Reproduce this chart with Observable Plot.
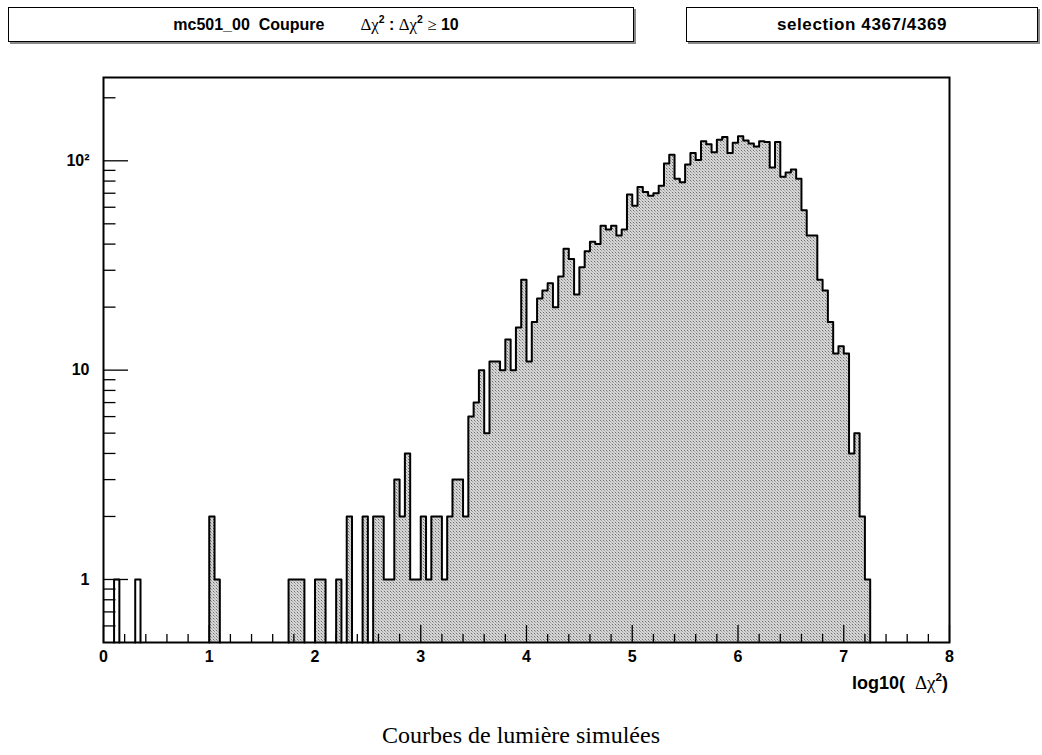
<!DOCTYPE html>
<html>
<head>
<meta charset="utf-8">
<script src="https://cdn.jsdelivr.net/npm/d3@7"></script>
<script src="https://cdn.jsdelivr.net/npm/@observablehq/plot@0.6"></script>
<style>
  html, body { margin: 0; padding: 0; background: #fff; }
  body { width: 1042px; height: 755px; position: relative; overflow: hidden; font-family: "Liberation Sans", Arial, sans-serif; color: #000; }
  .box { position: absolute; top: 7px; height: 35px; box-sizing: border-box; border: 1px solid #000; box-shadow: 2px 2px 0 #8a8a8a; background: #fff;
         font-weight: bold; font-size: 16px; display: flex; align-items: center; justify-content: center; white-space: pre; }
  .sym { font-family: "Liberation Serif", "DejaVu Serif", serif; font-weight: normal; font-size: 1.05em; }
  sup { font-size: 0.65em; vertical-align: 0.7em; line-height: 0; font-weight: bold; font-family: "Liberation Sans", Arial, sans-serif; }
  #chart { position: absolute; left: 0; top: 0; }
  #xlabel { position: absolute; right: 94px; top: 672px; font-weight: bold; font-size: 18px; white-space: pre; }
  #caption { position: absolute; left: 0; width: 1042px; top: 722px; text-align: center; font-family: "Liberation Serif", "DejaVu Serif", serif; font-size: 24px; }
</style>
</head>
<body>
<div class="box" style="left:8px;width:626px;padding-right:10px;"><span>mc501_00  Coupure<span class="sym" style="margin-left:36px">Δχ</span><sup>2</sup> : <span class="sym">Δχ</span><sup>2</sup> <span class="sym">≥</span> 10</span></div>
<div class="box" style="left:686px;width:352px;font-size:17px;letter-spacing:0.6px;"><span>selection 4367/4369</span></div>
<div id="chart"></div>
<div id="xlabel">log10(  <span class="sym">Δχ</span><sup>2</sup>)</div>
<div id="caption">Courbes de lumière simulées</div>
<script>
// Histogram definition: 160 bins of width 0.05 on log10(Δχ²) from 0 to 8
const xMin = 0, xMax = 8, binWidth = 0.05;
const cutLog = 1; // Δχ² ≥ 10  ->  log10(Δχ²) ≥ 1 (filled part)
const yMin = 0.5, yMax = 250;

// entries per bin (bin i covers [i*0.05, (i+1)*0.05))
const counts = [
  0,0,1,0,0,0,1,0,0,0,0,0,0,0,0,0,0,0,0,0,
  2,1,0,0,0,0,0,0,0,0,0,0,0,0,0,1,1,1,0,0,
  1,1,0,0,1,0,2,0,0,2,0,2,2,1,1,3,2,4,1,1,
  2,1,2,2,1,2,3,3,2,6,7,10,5,11,11,10,14,10,16,27,
  11,17,22,24,26,20,28,38,34,23,31,37,41,40,49,47,49,44,47,69,
  61,75,71,68,70,76,97,107,82,79,96,109,101,124,120,110,126,130,109,122,
  131,125,121,117,124,123,93,123,84,88,91,82,58,44,44,27,24,17,12,13,
  12,4,5,2,1,0,0,0,0,0,0,0,0,0,0,0,0,0,0,0
];

const xMajorTicks = [0, 1, 2, 3, 4, 5, 6, 7, 8];
const xMinorTicks = [0.2,0.4,0.6,0.8, 1.2,1.4,1.6,1.8, 2.2,2.4,2.6,2.8, 3.2,3.4,3.6,3.8,
                     4.2,4.4,4.6,4.8, 5.2,5.4,5.6,5.8, 6.2,6.4,6.6,6.8, 7.2,7.4,7.6,7.8];
const yMajorTicks = [1, 10, 100];
const yMajorLabels = ["1", "10", "10²"];
const yMinorTicks = [0.6,0.7,0.8,0.9, 2,3,4,5,6,7,8,9, 20,30,40,50,60,70,80,90, 200];

// Build the histogram contour (ROOT style step outline) from the counts
const runs = [];
let cur = null;
counts.forEach((n, i) => {
  if (n > 0) {
    if (!cur) { cur = {start: i, bins: []}; runs.push(cur); }
    cur.bins.push(i);
  } else cur = null;
});
const contour = [];
runs.forEach((r, k) => {
  const x0 = xMin + r.start * binWidth;
  const filled = x0 >= cutLog - 1e-9;
  contour.push({run: k, filled, x: x0, y: yMin, base: yMin});
  r.bins.forEach(i => {
    const lo = xMin + i * binWidth;
    contour.push({run: k, filled, x: lo, y: counts[i], base: yMin});
    contour.push({run: k, filled, x: lo + binWidth, y: counts[i], base: yMin});
  });
  contour.push({run: k, filled, x: xMin + (r.start + r.bins.length) * binWidth, y: yMin, base: yMin});
});

const chart = Plot.plot({
  width: 1042,
  height: 755,
  marginTop: 77,
  marginLeft: 103,
  marginRight: 93,
  marginBottom: 113,
  style: {fontFamily: "'Liberation Sans', Arial, sans-serif", fontSize: "16px", fontWeight: "bold", background: "transparent", color: "#000"},
  x: {domain: [xMin, xMax]},
  y: {type: "log", domain: [yMin, yMax]},
  marks: [
    Plot.area(contour.filter(d => d.filled), {x1: "x", y1: "base", y2: "y", z: "run", fill: "url(#rootdots)", curve: "linear"}),
    Plot.line(contour, {x: "x", y: "y", z: "run", stroke: "#000", strokeWidth: 2, curve: "linear"}),
    Plot.axisX({ticks: xMajorTicks, tickSize: 0, tickPadding: 8, tickFormat: d => String(d), label: null, stroke: "none"}),
    Plot.axisX({ticks: xMajorTicks, tickSize: -17, fill: "none", label: null, strokeWidth: 1.3}),
    Plot.axisX({ticks: xMinorTicks, tickSize: -8, fill: "none", label: null, strokeWidth: 1.3}),
    Plot.axisY({ticks: yMajorTicks, tickSize: 0, tickPadding: 14, tickFormat: d => yMajorLabels[yMajorTicks.indexOf(d)], label: null, stroke: "none"}),
    Plot.axisY({ticks: yMajorTicks, tickSize: -25, fill: "none", label: null, strokeWidth: 1.3}),
    Plot.axisY({ticks: yMinorTicks, tickSize: -12.5, fill: "none", label: null, strokeWidth: 1.3}),
    Plot.frame({stroke: "#000", strokeWidth: 2})
  ]
});

// dotted grey fill pattern
const svg = d3.select(chart);
const defs = svg.insert("defs", ":first-child");
const pat = defs.append("pattern").attr("id", "rootdots").attr("patternUnits", "userSpaceOnUse").attr("width", 3).attr("height", 3);
pat.append("rect").attr("width", 3).attr("height", 3).attr("fill", "#d6d6d6");
pat.append("rect").attr("x", 0).attr("y", 0).attr("width", 1).attr("height", 1).attr("fill", "#6e6e6e");
pat.append("rect").attr("x", 1).attr("y", 1).attr("width", 1).attr("height", 1).attr("fill", "#a0a0a0");
pat.append("rect").attr("x", 2).attr("y", 2).attr("width", 1).attr("height", 1).attr("fill", "#bcbcbc");

document.getElementById("chart").appendChild(chart);
</script>
</body>
</html>
